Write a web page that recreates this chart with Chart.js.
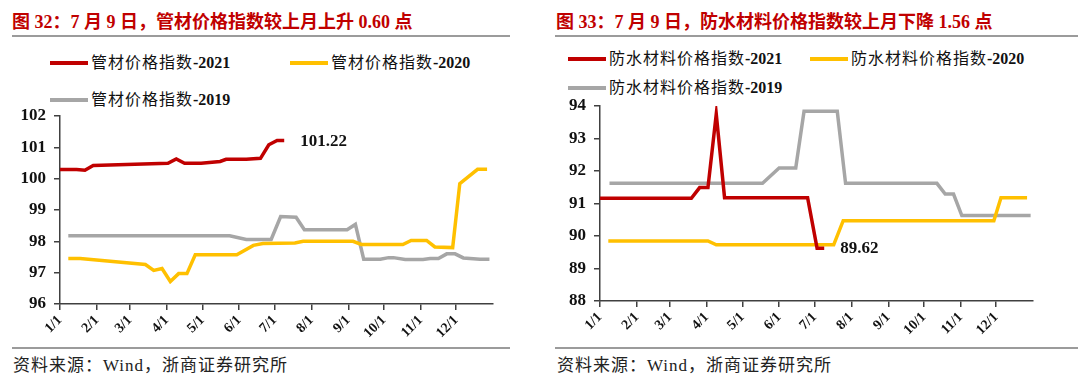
<!DOCTYPE html>
<html>
<head>
<meta charset="utf-8">
<script src="https://cdn.jsdelivr.net/npm/chart.js@4.4.0/dist/chart.umd.min.js"></script>
<style>
  body { margin: 0; width: 1080px; height: 379px; background: #fff; position: relative; overflow: hidden;
         font-family: "Liberation Serif", "Noto Sans CJK SC", serif; }
  .title { position: absolute; top: 7px; color: #C00000; font-weight: bold; font-size: 18px; white-space: nowrap; }
  .rule { position: absolute; height: 2px; background: #9b9b9b; }
  .src { position: absolute; top: 351px; font-size: 17px; letter-spacing: 1px; color: #222; white-space: nowrap; }
  .leg { position: absolute; font-size: 16px; letter-spacing: 1px; color: #111; white-space: nowrap; line-height: 22px; }
  .leg i { display: inline-block; width: 38px; height: 4px; vertical-align: middle; margin-right: 3px; margin-top: -2px; }
  .leg b { font-weight: bold; letter-spacing: 0; }
  .box { position: absolute; }
</style>
</head>
<body>

<div class="title" style="left:12px">图 32：7 月 9 日，管材价格指数较上月上升 0.60 点</div>
<div class="rule" style="left:12px;top:35px;width:498px"></div>
<div class="leg" id="pipeLeg0" style="left:50px;top:52px"></div>
<div class="leg" id="pipeLeg1" style="left:290px;top:52px"></div>
<div class="leg" id="pipeLeg2" style="left:50px;top:89px"></div>
<div class="box" style="left:0;top:100px;width:520px;height:246px"><canvas id="pipeChart"></canvas></div>
<div class="rule" style="left:12px;top:347px;width:498px"></div>
<div class="src" id="pipeSrc" style="left:13px"></div>

<div class="title" style="left:556px">图 33：7 月 9 日，防水材料价格指数较上月下降 1.56 点</div>
<div class="rule" style="left:555px;top:35px;width:523px"></div>
<div class="leg" id="waterLeg0" style="left:568px;top:48px"></div>
<div class="leg" id="waterLeg1" style="left:810px;top:48px"></div>
<div class="leg" id="waterLeg2" style="left:568px;top:77px"></div>
<div class="box" style="left:540px;top:96px;width:520px;height:246px"><canvas id="waterChart"></canvas></div>
<div class="rule" style="left:555px;top:347px;width:523px"></div>
<div class="src" id="waterSrc" style="left:557px"></div>

<script>
// x tick labels (month starts)
const monthLabels = ["1/1", "2/1", "3/1", "4/1", "5/1", "6/1", "7/1", "8/1", "9/1", "10/1", "11/1", "12/1"];
const years = ["2021", "2020", "2019"];
const colors = ["#C00000", "#FFC000", "#A6A6A6"];
const sourceText = "资料来源：Wind，浙商证券研究所";

// 管材价格指数
const pipeDates2021 = ["1/1", "1/15", "1/22", "1/29", "2/5", "4/2", "4/9", "4/16", "4/30", "5/16", "5/21", "6/7", "6/19", "6/26", "7/3", "7/9"];
const pipeVals2021 = [100.29, 100.29, 100.27, 100.42, 100.43, 100.49, 100.63, 100.49, 100.49, 100.55, 100.62, 100.62, 100.65, 101.08, 101.22, 101.22];

const pipeDates2020 = ["1/8", "1/18", "3/14", "3/21", "3/28", "4/4", "4/11", "4/18", "4/25", "5/30", "6/13", "6/21", "7/18", "7/25", "9/5", "9/12", "10/17", "10/24", "11/6", "11/13", "11/28", "12/4", "12/19", "12/27"];
const pipeVals2020 = [97.45, 97.45, 97.26, 97.07, 97.13, 96.72, 96.97, 96.97, 97.57, 97.57, 97.87, 97.93, 97.95, 98.0, 98.0, 97.9, 97.9, 98.03, 98.03, 97.82, 97.8, 99.84, 100.3, 100.3];

const pipeDates2019 = ["1/8", "5/24", "6/7", "6/28", "7/6", "7/19", "7/26", "8/31", "9/7", "9/14", "9/28", "10/5", "10/9", "10/19", "11/3", "11/9", "11/16", "11/23", "11/30", "12/7", "12/21", "12/29"];
const pipeVals2019 = [98.18, 98.18, 98.06, 98.06, 98.79, 98.77, 98.37, 98.37, 98.54, 97.43, 97.43, 97.48, 97.48, 97.42, 97.42, 97.45, 97.45, 97.6, 97.6, 97.47, 97.43, 97.43];

// 防水材料价格指数
const waterDates2021 = ["1/1", "3/19", "3/26", "4/2", "4/9", "4/16", "6/25", "7/3", "7/9"];
const waterVals2021 = [91.16, 91.16, 91.49, 91.49, 93.75, 91.18, 91.18, 89.62, 89.62];

const waterDates2020 = ["1/8", "4/2", "4/9", "7/17", "7/25", "11/29", "12/5", "12/27"];
const waterVals2020 = [89.85, 89.85, 89.73, 89.73, 90.47, 90.47, 91.18, 91.18];

const waterDates2019 = ["1/9", "5/18", "6/1", "6/15", "6/22", "7/20", "7/27", "10/12", "10/19", "10/26", "11/2", "12/30"];
const waterVals2019 = [91.62, 91.62, 92.09, 92.09, 93.84, 93.84, 91.62, 91.62, 91.29, 91.29, 90.63, 90.63];

const cumDays = [0, 31, 59, 90, 120, 151, 181, 212, 243, 273, 304, 334];

function dayOfYear(md) {
  const [m, d] = md.split("/").map(Number);
  return cumDays[m - 1] + d - 1;
}

function toPoints(dates, vals) {
  return dates.map((d, i) => ({ x: dayOfYear(d), y: vals[i] }));
}

const tickFont = { family: "Liberation Serif", size: 17, weight: "bold" };
const axisColor = "#404040";

// writes the last value of the 2021 line next to its end
const endLabel = {
  id: "endLabel",
  afterDatasetsDraw(chart, args, opts) {
    const meta = chart.getDatasetMeta(0);
    const last = meta.data[meta.data.length - 1];
    const vals = chart.data.datasets[0].data;
    const ctx = chart.ctx;
    ctx.save();
    ctx.font = "bold 17px 'Liberation Serif'";
    ctx.fillStyle = "#111";
    ctx.textBaseline = "middle";
    ctx.fillText(vals[vals.length - 1].y.toFixed(2), last.x + 16, last.y + (opts.dy || 0));
    ctx.restore();
  }
};

function makeChart(id, series, yMin, yMax, padTop, xHeight, labelDy) {
  const canvas = document.getElementById(id);
  // software canvas, so the whole bitmap is shown as drawn
  canvas.getContext("2d", { willReadFrequently: true });
  return new Chart(canvas, {
    type: "line",
    data: {
      datasets: series.map((s, i) => ({
        label: years[i],
        data: toPoints(s[0], s[1]),
        borderColor: colors[i],
        backgroundColor: colors[i],
        borderWidth: 3.5,
        pointRadius: 0,
        tension: 0,
        fill: false,
      })),
    },
    options: {
      responsive: true,
      maintainAspectRatio: false,
      animation: false,
      layout: { padding: { top: padTop, right: 27, left: 0, bottom: 0 } },
      scales: {
        x: {
          type: "linear",
          min: 0,
          max: 365,
          afterBuildTicks: (scale) => { scale.ticks = cumDays.map((v) => ({ value: v })); },
          afterFit: (scale) => {
            scale.height = xHeight;
            scale.paddingLeft = 0;
            scale.paddingRight = 0;
          },
          ticks: {
            autoSkip: false,
            minRotation: 45,
            maxRotation: 45,
            padding: 2,
            color: "#111",
            font: { family: "Liberation Serif", size: 14, weight: "bold" },
            callback: (v, i) => monthLabels[i],
          },
          grid: { drawOnChartArea: false, drawTicks: true, tickLength: 6, color: axisColor, lineWidth: 1.5 },
          border: { color: axisColor, width: 1.5 },
        },
        y: {
          min: yMin,
          max: yMax,
          afterFit: (scale) => {
            scale.width = 60;
            scale.paddingTop = 0;
            scale.paddingBottom = 0;
          },
          ticks: { stepSize: 1, padding: 8, color: "#111", font: tickFont },
          grid: { drawOnChartArea: false, drawTicks: true, tickLength: 6, color: axisColor, lineWidth: 1.5 },
          border: { color: axisColor, width: 1.5 },
        },
      },
      plugins: {
        legend: { display: false },
        tooltip: { enabled: false },
        endLabel: { dy: labelDy },
      },
    },
    plugins: [endLabel],
  });
}

const pipeChart = makeChart("pipeChart", [
  [pipeDates2021, pipeVals2021],
  [pipeDates2020, pipeVals2020],
  [pipeDates2019, pipeVals2019],
], 96, 102, 16, 42, 1);

const waterChart = makeChart("waterChart", [
  [waterDates2021, waterVals2021],
  [waterDates2020, waterVals2020],
  [waterDates2019, waterVals2019],
], 88, 94, 10, 41, 0);

// legends and source lines, filled in after the charts are built
function fillLegend(prefix, name) {
  years.forEach((y, i) => {
    document.getElementById(prefix + i).innerHTML =
      '<i style="background:' + colors[i] + '"></i>' + name + "<b>-" + y + "</b>";
  });
}
fillLegend("pipeLeg", "管材价格指数");
fillLegend("waterLeg", "防水材料价格指数");
document.getElementById("pipeSrc").textContent = sourceText;
document.getElementById("waterSrc").textContent = sourceText;
</script>
</body>
</html>
